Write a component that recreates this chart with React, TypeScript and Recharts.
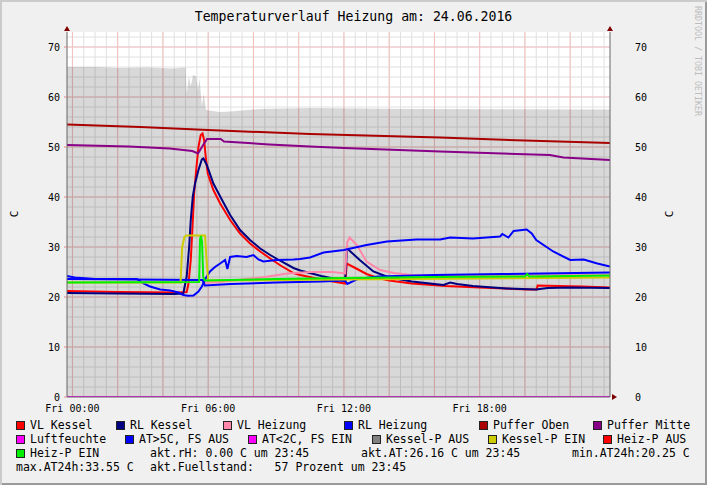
import React from 'react';
import { ComposedChart, Line, Area, XAxis, YAxis, CartesianGrid, ReferenceDot } from 'recharts';

// Temperaturverlauf Heizung, rrdtool style day graph

type Pt = [number, number]; // [hour of day, value]

const title = 'Temperaturverlauf Heizung am: 24.06.2016';
const timeDomain: [number, number] = [-0.24, 23.76];
const tempDomain: [number, number] = [0, 73];
const timeTicks = [0, 6, 12, 18];
const timeLabels = ['Fri 00:00', 'Fri 06:00', 'Fri 12:00', 'Fri 18:00'];
const tempTicks = [0, 10, 20, 30, 40, 50, 60, 70];
const majorTimeGrid = [0, 2, 4, 6, 8, 10, 12, 14, 16, 18, 20, 22];
const majorTempGrid = [10, 20, 30, 40, 50, 60, 70];
const minorTimeGrid = Array.from({ length: 48 }, (_, i) => i * 0.5);
const minorTempGrid = Array.from({ length: 36 }, (_, i) => (i + 1) * 2);

const fuellstand: Pt[] = [
  [-0.24, 66.0], [1.0, 66.0], [2.0, 65.8], [3.3, 65.9], [4.4, 65.7], [5.0, 65.9],
  [5.05, 60.7], [5.15, 64.1], [5.23, 62.1], [5.33, 64.4], [5.47, 64.1], [5.55, 61.4],
  [5.62, 63.7], [5.72, 58.1], [5.8, 60.7], [5.9, 57.4], [6.5, 57.0], [7.0, 57.1],
  [8.3, 57.6], [10.5, 57.8], [15.0, 57.6], [23.76, 57.5],
];

const vlKessel: Pt[] = [
  [-0.24, 21.2], [2.0, 21.0], [4.7, 20.9], [5.05, 21.0], [5.13, 22.7], [5.23, 27.4],
  [5.3, 33.4], [5.38, 40.7], [5.47, 45.4], [5.57, 50.0], [5.67, 52.4], [5.75, 52.7],
  [5.82, 51.4], [5.89, 48.1], [5.98, 44.7], [6.23, 41.4], [6.53, 38.7], [6.97, 35.4],
  [7.41, 32.7], [7.85, 30.7], [8.3, 29.1], [8.74, 27.7], [9.2, 26.3], [9.77, 24.8],
  [10.07, 24.4], [11.0, 23.5], [12.05, 22.7], [12.13, 26.7], [12.5, 25.8], [13.0, 24.6],
  [13.5, 23.8], [14.0, 23.3], [15.0, 22.7], [16.5, 22.2], [18.0, 21.9], [20.1, 21.5],
  [20.52, 21.5], [20.56, 22.3], [21.5, 22.2], [22.5, 22.1], [23.76, 21.9],
];

const rlKessel: Pt[] = [
  [-0.24, 20.8], [2.0, 20.7], [4.5, 20.6], [4.9, 20.7], [5.05, 24.1], [5.16, 30.1],
  [5.23, 35.4], [5.32, 40.1], [5.42, 42.7], [5.57, 45.4], [5.72, 47.5], [5.79, 47.7],
  [5.94, 46.4], [6.23, 42.7], [6.53, 40.1], [6.97, 36.4], [7.41, 33.4], [7.85, 31.4],
  [8.3, 29.7], [8.74, 28.4], [9.2, 27.2], [9.77, 25.8], [10.07, 25.3], [11.0, 24.2],
  [12.05, 23.2], [12.14, 29.7], [12.7, 27.4], [13.3, 25.1], [14.0, 23.9], [15.0, 23.1],
  [16.4, 22.4], [16.7, 22.9], [17.0, 22.6], [17.7, 22.2], [19.2, 21.7], [20.5, 21.5],
  [21.0, 21.8], [22.0, 21.9], [23.76, 21.8],
];

const vlHeizung: Pt[] = [
  [5.75, 22.8], [6.5, 23.0], [7.5, 23.5], [8.5, 24.0], [9.5, 24.7], [10.5, 25.0],
  [11.5, 25.0], [12.05, 24.7], [12.15, 31.0], [12.25, 31.9], [12.57, 30.4], [13.0, 27.1],
  [13.6, 25.4], [14.2, 24.8], [15.0, 24.4], [18.0, 24.3], [23.76, 24.4],
];

const rlHeizung: Pt[] = [
  [-0.24, 24.2], [0.1, 23.9], [1.0, 23.6], [2.85, 23.6], [3.14, 22.7], [3.43, 22.1],
  [3.88, 21.5], [4.32, 21.3], [4.69, 20.9], [4.9, 20.4], [5.1, 20.25], [5.35, 20.3],
  [5.57, 21.1], [5.72, 22.1], [5.9, 23.8], [6.08, 25.1], [6.3, 26.0], [6.53, 26.7],
  [6.75, 27.4], [6.85, 25.6], [6.97, 28.0], [7.26, 28.2], [7.7, 28.0], [8.0, 28.4],
  [8.22, 27.5], [8.44, 27.1], [9.03, 27.4], [9.77, 27.5], [10.06, 27.6], [10.5, 27.9],
  [11.1, 28.9], [12.0, 29.4], [13.0, 30.4], [13.9, 31.1], [15.2, 31.5], [16.25, 31.5],
  [16.7, 31.9], [17.7, 31.7], [18.9, 32.1], [19.0, 32.6], [19.27, 31.9], [19.5, 33.2],
  [20.08, 33.5], [20.3, 32.7], [20.5, 31.4], [21.25, 29.1], [22.0, 27.4], [22.6, 27.5],
  [23.2, 26.7], [23.76, 26.1],
];

const pufferOben: Pt[] = [
  [-0.24, 54.5], [3.0, 54.0], [6.0, 53.4], [10.5, 52.6], [16.25, 51.9], [20.0, 51.3], [23.76, 50.8],
];

const pufferMitte: Pt[] = [
  [-0.24, 50.4], [2.5, 50.1], [4.3, 49.7], [5.3, 49.2], [5.55, 48.7], [5.75, 50.2],
  [5.95, 51.6], [6.55, 51.6], [6.7, 51.1], [8.7, 50.5], [10.5, 50.1], [12.0, 49.8],
  [16.25, 49.1], [19.0, 48.7], [21.1, 48.4], [21.7, 47.9], [23.76, 47.4],
];

const luftfeuchte: Pt[] = [[-0.24, 0], [23.76, 0]];

const atUeber5: Pt[] = [
  [-0.24, 23.6], [5.75, 23.4], [5.85, 22.3], [7.0, 22.6], [9.0, 22.9], [11.0, 23.1],
  [12.05, 23.3], [12.15, 22.6], [12.6, 23.6], [13.5, 24.1], [16.0, 24.4], [19.0, 24.6],
  [23.76, 24.9],
];

const kesselPEin: Pt[] = [
  [-0.24, 22.9], [4.78, 22.9], [4.85, 30.0], [4.95, 32.0], [5.02, 32.3], [5.86, 32.3],
  [5.92, 28.0], [6.0, 23.3], [12.0, 23.5], [23.76, 23.9],
];

const heizPEin: Pt[] = [
  [-0.24, 22.9], [5.6, 23.0], [5.64, 31.5], [5.68, 32.2], [5.73, 31.0], [5.78, 24.0],
  [5.85, 23.3], [9.0, 23.6], [12.0, 23.8], [16.0, 24.0], [20.0, 24.1], [20.1, 24.6],
  [20.2, 24.1], [23.76, 24.3],
];

const lines = [
  { name: 'VL Kessel', color: '#ff0000', data: vlKessel },
  { name: 'RL Kessel', color: '#000080', data: rlKessel },
  { name: 'VL Heizung', color: '#ff88aa', data: vlHeizung },
  { name: 'RL Heizung', color: '#0000ff', data: rlHeizung },
  { name: 'Puffer Oben', color: '#aa0000', data: pufferOben },
  { name: 'Puffer Mitte', color: '#880088', data: pufferMitte },
  { name: 'Luftfeuchte', color: '#ff00ff', data: luftfeuchte },
  { name: 'AT>5C, FS AUS', color: '#0000ff', data: atUeber5 },
  { name: 'Kessel-P EIN', color: '#cccc00', data: kesselPEin },
  { name: 'Heiz-P EIN', color: '#00ee00', data: heizPEin },
];

// legend: rows of [label, swatch colour]
const legendRows: [string, string][][] = [
  [['VL Kessel', '#ff0000'], ['RL Kessel', '#000080'], ['VL Heizung', '#ff88aa'],
   ['RL Heizung', '#0000ff'], ['Puffer Oben', '#aa0000'], ['Puffer Mitte', '#880088']],
  [['Luftfeuchte', '#ff00ff'], ['AT>5C, FS AUS', '#0000ff'], ['AT<2C, FS EIN', '#ff00ff'],
   ['Kessel-P AUS', '#808080'], ['Kessel-P EIN', '#cccc00'], ['Heiz-P AUS', '#ff0000']],
  [['Heiz-P EIN', '#00ee00']],
];
const statsRow3 = ['akt.rH: 0.00 C um 23:45', 'akt.AT:26.16 C um 23:45', 'min.AT24h:20.25 C'];
const statsRow4 = ['max.AT24h:33.55 C', 'akt.Fuellstand:   57 Prozent um 23:45'];

// layout
const W = 707;
const H = 485;
const FONT = '"DejaVu Sans Mono", monospace';
const legendX = [
  [30, 130, 237, 358, 493, 607],
  [30, 139, 262, 386, 502, 617],
  [30],
];
const stats3X = [150, 361, 572];
const stats4X = [16, 150];
const rowY = [425, 439, 453, 467];

const toRows = (pts: Pt[]) => pts.map(([t, v]) => ({ t, v }));

const upArrow = (props: any) => {
  const { cx, cy } = props;
  return <polygon points={`${cx},${cy - 6} ${cx - 3},${cy - 1} ${cx + 3},${cy - 1}`} fill="#7f0000" />;
};
const rightArrow = (props: any) => {
  const { cx, cy } = props;
  return <polygon points={`${cx + 7},${cy} ${cx + 2},${cy - 3} ${cx + 2},${cy + 3}`} fill="#7f0000" />;
};

const txt = (s: string, x: number, y: number, key: string) => (
  <div
    key={key}
    style={{ position: 'absolute', left: x, top: y - 7, lineHeight: '14px', fontSize: 11.5, whiteSpace: 'pre', color: '#000' }}
  >
    {s}
  </div>
);

const App: React.FC = () => {
  return (
    <div
      style={{
        position: 'absolute', left: 0, top: 0, width: W, height: H, background: '#f0f0f0',
        boxShadow: 'inset 2px 2px 0 #cbcbcb, inset -2px -2px 0 #999999', fontFamily: FONT, overflow: 'hidden',
      }}
    >
      <ComposedChart width={W} height={H} margin={{ top: 32, right: 0, bottom: 68, left: 0 }}>
        <CartesianGrid
          xAxisId="x" yAxisId="left"
          verticalValues={minorTimeGrid} horizontalValues={minorTempGrid}
          stroke="#e0e0e0" fill="#ffffff" fillOpacity={1}
        />
        <CartesianGrid
          xAxisId="x" yAxisId="left"
          verticalValues={majorTimeGrid} horizontalValues={majorTempGrid}
          stroke="#f4c0c0"
        />
        <XAxis
          xAxisId="x" dataKey="t" type="number" domain={timeDomain} allowDataOverflow
          ticks={timeTicks} interval={0} height={20}
          tickFormatter={(v: number) => timeLabels[timeTicks.indexOf(v)] ?? ''}
          tick={{ fontSize: 10, fill: '#000', fontFamily: FONT }}
          tickLine={false} tickSize={0} tickMargin={8}
          axisLine={{ stroke: '#666' }}
        />
        <YAxis
          yAxisId="left" type="number" domain={tempDomain} allowDataOverflow
          ticks={tempTicks} interval={0} width={67}
          tick={{ fontSize: 10, fill: '#000', fontFamily: FONT }}
          tickLine={{ stroke: '#e08a8a' }} tickSize={3} tickMargin={4}
          axisLine={{ stroke: '#666' }}
        />
        <YAxis
          yAxisId="right" orientation="right" type="number" domain={tempDomain} allowDataOverflow
          ticks={tempTicks} interval={0} width={97}
          tick={{ fontSize: 10, fill: '#000', fontFamily: FONT }}
          tickLine={false} tickSize={0} tickMargin={25}
          axisLine={{ stroke: '#666' }}
        />
        <Area
          xAxisId="x" yAxisId="left" data={toRows(fuellstand)} dataKey="v" type="linear"
          stroke="none" fill="#000000" fillOpacity={0.153} baseValue={0} isAnimationActive={false}
        />
        {lines.map((s) => (
          <Line
            key={s.name} xAxisId="x" yAxisId="left" data={toRows(s.data)} dataKey="v" name={s.name}
            type="linear" stroke={s.color} strokeWidth={2} dot={false} activeDot={false}
            isAnimationActive={false}
          />
        ))}
        <ReferenceDot xAxisId="x" yAxisId="left" x={timeDomain[0]} y={tempDomain[1]} ifOverflow="visible" shape={upArrow} />
        <ReferenceDot xAxisId="x" yAxisId="left" x={timeDomain[1]} y={tempDomain[1]} ifOverflow="visible" shape={upArrow} />
        <ReferenceDot xAxisId="x" yAxisId="left" x={timeDomain[1]} y={tempDomain[0]} ifOverflow="visible" shape={rightArrow} />
      </ComposedChart>

      <div style={{ position: 'absolute', left: 0, top: 9, width: W, textAlign: 'center', fontSize: 13.2, lineHeight: '16px', whiteSpace: 'pre' }}>
        {title}
      </div>
      <div style={{ position: 'absolute', left: 15, top: 214, fontSize: 11, lineHeight: '12px', transform: 'translate(-50%, -50%) rotate(-90deg)' }}>C</div>
      <div style={{ position: 'absolute', left: 670, top: 214, fontSize: 11, lineHeight: '12px', transform: 'translate(-50%, -50%) rotate(-90deg)' }}>C</div>
      <div style={{ position: 'absolute', left: 693, top: 6, fontSize: 8.3, lineHeight: '9px', color: '#bdbdbd', writingMode: 'vertical-rl', whiteSpace: 'pre' }}>
        RRDTOOL / TOBI OETIKER
      </div>

      {legendRows.map((row, r) =>
        row.map(([label, color], i) => (
          <React.Fragment key={`${r}-${i}`}>
            <div
              style={{
                position: 'absolute', left: legendX[r][i] - 14, top: rowY[r] - 4, width: 9, height: 9,
                boxSizing: 'border-box', background: color, border: '1px solid #222',
              }}
            />
            {txt(label, legendX[r][i], rowY[r], `t${r}-${i}`)}
          </React.Fragment>
        )),
      )}
      {statsRow3.map((s, i) => txt(s, stats3X[i], rowY[2], `s3-${i}`))}
      {statsRow4.map((s, i) => txt(s, stats4X[i], rowY[3], `s4-${i}`))}
    </div>
  );
};

export default App;
